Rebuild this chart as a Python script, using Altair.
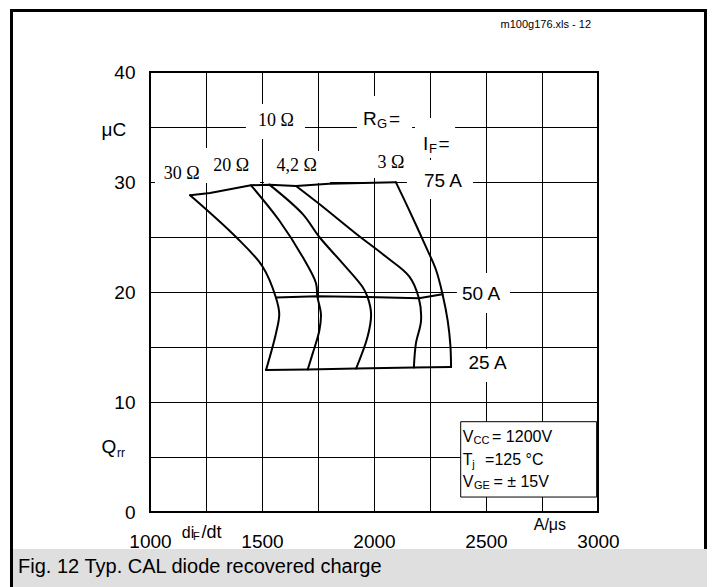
import altair as alt
import pandas as pd

# ---------------- data ----------------
# R_G curves: di_F/dt [A/us] and Qrr [uC], from I_F = 75 A down to 25 A
rg30_v = [1179, 1384, 1503, 1562, 1577, 1562, 1518]
rg30_q = [28.8, 25.0, 22.3, 19.5, 18.0, 16.2, 12.9]
rg20_v = [1451, 1577, 1681, 1741, 1747, 1763, 1756, 1726, 1704]
rg20_q = [29.7, 26.5, 23.2, 20.8, 19.6, 18.0, 16.5, 14.4, 12.95]
rg10_v = [1533, 1681, 1756, 1860, 1949, 1971, 1987, 1971, 1920]
rg10_q = [29.76, 27.1, 25.0, 22.6, 20.45, 19.55, 18.0, 15.9, 13.04]
rg4_v = [1652, 1756, 1920, 2054, 2158, 2200, 2210, 2187, 2178]
rg4_q = [29.64, 28.0, 25.3, 23.2, 21.4, 19.45, 17.4, 15.3, 13.13]
rg3_v = [2098, 2158, 2232, 2277, 2306, 2329, 2341, 2344]
rg3_q = [29.97, 27.4, 24.1, 22.0, 19.8, 17.4, 15.15, 13.18]

# I_F curves
if75_v = [1179, 1268, 1451, 1533, 1652, 1800, 2098]
if75_q = [28.8, 29.0, 29.7, 29.76, 29.64, 29.85, 29.97]
if50_v = [1562, 1747, 1971, 2200, 2306]
if50_q = [19.5, 19.62, 19.55, 19.43, 19.8]
if25_v = [1518, 1704, 1920, 2178, 2344]
if25_q = [12.9, 12.95, 13.04, 13.13, 13.18]

# axis grid / tick values
x_grid = [1000, 1250, 1500, 1750, 2000, 2250, 2500, 2750, 3000]
y_grid = [0, 5, 10, 15, 20, 25, 30, 35, 40]

# serif resistor labels (centred)
ohm_text = ["10 Ω", "30 Ω", "20 Ω", "4,2 Ω", "3 Ω"]
ohm_v = [1562, 1142, 1362, 1655, 2076]
ohm_q = [35.55, 30.73, 31.5, 31.5, 31.77]

# current labels (centred)
amp_text = ["75 A", "50 A", "25 A"]
amp_v = [2308, 2478, 2507]
amp_q = [30.09, 19.82, 13.59]

# left-aligned sans texts (with sub-scripts as separate pieces)
txt = ["R", "G", "=", "I", "F", "=",
       "V", "CC", "= 1200V", "T", "j", "=125 °C", "V", "GE", "= ± 15V",
       "μC", "Q", "rr", "di", "F", "/dt", "A/μs",
       "Fig. 12 Typ. CAL diode recovered charge"]
txt_v = [1951, 2013, 2067, 2219, 2246, 2288,
         2396, 2444, 2527, 2396, 2439, 2496, 2396, 2446, 2533,
         784, 784, 853, 1142, 1192, 1230, 2713,
         411]
txt_q = [35.18, 34.91, 35.18, 32.91, 32.64, 32.91,
         6.39, 6.18, 6.39, 4.27, 3.97, 4.27, 2.3, 2.05, 2.3,
         34.14, 5.36, 5.0, -2.39, -2.59, -2.39, -1.64,
         -5.55]
txt_size = [19, 13, 19, 19, 13, 19,
            16, 11, 16, 16, 11, 16, 16, 11, 16,
            19, 19, 12, 16, 11, 18, 16,
            20]

file_text = ["m100g176.xls - 12"]
file_v = [2969]
file_q = [44.0]

# white patches behind labels (grid interrupted)
patch_v = [1428, 1924, 2183, 2147, 1022, 1509, 1982, 2370, 2384]
patch_v2 = [1692, 2170, 2362, 2442, 1491, 1804, 2161, 2607, 2616]
patch_q = [37.09, 37.82, 35.82, 32.0, 33.09, 32.82, 32.91, 21.73, 14.82]
patch_q2 = [33.91, 32.91, 32.18, 28.45, 29.91, 29.91, 30.36, 18.09, 11.82]

# condition box
box_v, box_v2, box_q, box_q2 = [2387], [2994], [8.21], [1.36]

# ---------------- tables ----------------
def curve_rows(name, vs, qs):
    return [{"curve": name, "i": i, "v": v, "q": q} for i, (v, q) in enumerate(zip(vs, qs))]

rg_df = pd.DataFrame(curve_rows("30", rg30_v, rg30_q) + curve_rows("20", rg20_v, rg20_q)
                     + curve_rows("10", rg10_v, rg10_q) + curve_rows("4.2", rg4_v, rg4_q)
                     + curve_rows("3", rg3_v, rg3_q))
if_df = pd.DataFrame(curve_rows("75", if75_v, if75_q) + curve_rows("50", if50_v, if50_q)
                     + curve_rows("25", if25_v, if25_q))
ohm_df = pd.DataFrame({"t": ohm_text, "v": ohm_v, "q": ohm_q})
amp_df = pd.DataFrame({"t": amp_text, "v": amp_v, "q": amp_q})
txt_df = pd.DataFrame({"t": txt, "v": txt_v, "q": txt_q, "s": txt_size})
file_df = pd.DataFrame({"t": file_text, "v": file_v, "q": file_q})
patch_df = pd.DataFrame({"v": patch_v, "v2": patch_v2, "q": patch_q, "q2": patch_q2})
box_df = pd.DataFrame({"v": box_v, "v2": box_v2, "q": box_q, "q2": box_q2})
one = pd.DataFrame({"d": [0]})

# ---------------- scales / axes ----------------
xs = alt.Scale(domain=[1000, 3000], nice=False, zero=False)
ys = alt.Scale(domain=[0, 40], nice=False, zero=False)
x_axis = alt.Axis(values=x_grid, format="d",
                  labelExpr="datum.value % 500 == 0 ? datum.label : ''",
                  labelPadding=20, labelFlush=False, labelOverlap=False)
y_axis = alt.Axis(values=y_grid, format="d",
                  labelExpr="datum.value % 10 == 0 ? datum.label : ''",
                  labelPadding=15, labelFlush=False, labelOverlap=False)

def X():
    return alt.X("v:Q", scale=xs, axis=x_axis, title=None)

def Y():
    return alt.Y("q:Q", scale=ys, axis=y_axis, title=None)

SANS = "Liberation Sans"
SERIF = "Liberation Serif"

# ---------------- decorations (page frame and caption band) ----------------
band = alt.Chart(one).mark_rect(color="#dfdfdf").encode(
    x=alt.value(-137), x2=alt.value(557), y=alt.value(477), y2=alt.value(530))
top_line = alt.Chart(one).mark_rule(color="black", strokeWidth=3).encode(
    x=alt.value(-140), x2=alt.value(557), y=alt.value(-61.5))
left_line = alt.Chart(one).mark_rule(color="black", strokeWidth=3).encode(
    x=alt.value(-138.5), y=alt.value(-63), y2=alt.value(530))
right_line = alt.Chart(one).mark_rule(color="black", strokeWidth=3).encode(
    x=alt.value(555.5), y=alt.value(-63), y2=alt.value(477))

# ---------------- plot layers ----------------
patches = alt.Chart(patch_df).mark_rect(color="white").encode(
    x=X(), x2="v2:Q", y=Y(), y2="q2:Q")
box = alt.Chart(box_df).mark_rect(fill="white", stroke="black", strokeWidth=1).encode(
    x=X(), x2="v2:Q", y=Y(), y2="q2:Q")

rg_lines = alt.Chart(rg_df).mark_line(color="black", strokeWidth=2, interpolate="catmull-rom",
                                      strokeJoin="round", strokeCap="round").encode(
    x=X(), y=Y(), detail="curve:N", order=alt.Order("i:Q"))
if_lines = alt.Chart(if_df).mark_line(color="black", strokeWidth=2, interpolate="linear",
                                      strokeJoin="round", strokeCap="round").encode(
    x=X(), y=Y(), detail="curve:N", order=alt.Order("i:Q"))

ohm_labels = alt.Chart(ohm_df).mark_text(font=SERIF, fontSize=18, color="black",
                                         align="center", baseline="middle").encode(
    x=X(), y=Y(), text="t:N")
amp_labels = alt.Chart(amp_df).mark_text(font=SANS, fontSize=19, color="black",
                                         align="center", baseline="middle").encode(
    x=X(), y=Y(), text="t:N")
texts = alt.Chart(txt_df).mark_text(font=SANS, color="black",
                                    align="left", baseline="alphabetic").encode(
    x=X(), y=Y(), text="t:N", size=alt.Size("s:Q", scale=None, legend=None))
file_label = alt.Chart(file_df).mark_text(font=SANS, fontSize=11, color="black",
                                          align="right", baseline="alphabetic").encode(
    x=X(), y=Y(), text="t:N")

chart = alt.layer(
    band, top_line, left_line, right_line,
    patches, box, if_lines, rg_lines,
    ohm_labels, amp_labels, texts, file_label,
).properties(
    width=448, height=440,
    autosize=alt.AutoSizeParams(type="none"),
    padding={"left": 142, "top": 64, "right": 109, "bottom": 75},
    background="white",
).configure_view(
    stroke="black", strokeWidth=2
).configure_axis(
    grid=True, gridColor="black", gridWidth=1, gridOpacity=1,
    domain=False, ticks=False,
    labelFont=SANS, labelFontSize=19, labelColor="black",
)

chart.save("out.html", embed_options={"renderer": "svg", "actions": False})
